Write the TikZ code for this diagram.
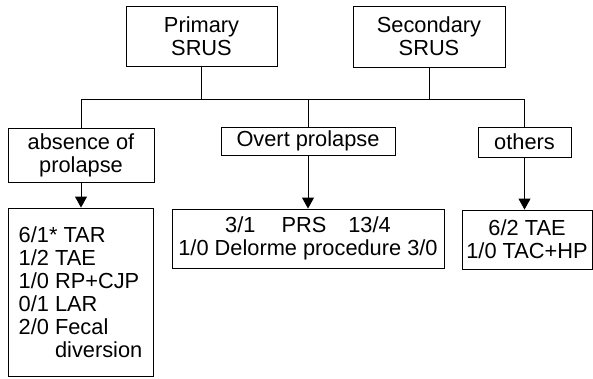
\documentclass[tikz,border=0pt]{standalone}
\usepackage{fontspec}
\setmainfont{Liberation Sans}
\usepackage{tikz}
\usetikzlibrary{arrows.meta,positioning}

\begin{document}
\begin{tikzpicture}[x=1pt,y=-1pt,line width=0.9pt,
  box/.style={draw,align=center,inner sep=0pt,
    font=\fontsize{21.8}{23}\selectfont},
  tip/.style={-{Triangle[length=11pt,width=12pt]}}]

  \useasboundingbox (0,0) rectangle (593,378);

  \node[box,minimum width=151pt,minimum height=60pt] (prim) at (201.5,36)  {Primary\\SRUS};
  \node[box,minimum width=152pt,minimum height=61pt] (sec)  at (429,36.5)  {Secondary\\SRUS};
  \coordinate (bus) at (0,99);

  \node[box,minimum width=146pt,minimum height=54pt] (absn)  at (81,155)    {absence of\\prolapse};
  \node[box,minimum width=174pt,minimum height=28pt] (overt) at (308,141)   {Overt prolapse};
  \node[box,minimum width=93pt,minimum height=30pt]  (oth)   at (524.5,142) {others};

  \node[box,align=left,minimum width=145pt,minimum height=168pt] (res1) at (80.5,292)
    {6/1* TAR\\1/2 TAE\\1/0 RP+CJP\\0/1 LAR\\2/0 Fecal\\\phantom{2/0 }diversion};
  \node[box,minimum width=272pt,minimum height=59pt] (res2) at (308,238.5)
    {3/1\hspace{1.2em}PRS\hspace{1em}13/4\\1/0 Delorme procedure 3/0};
  \node[box,minimum width=130pt,minimum height=59pt] (res3) at (527,239.5)
    {6/2 TAE\\1/0 TAC+HP};

\draw (prim.south) -- (prim.south |- bus);
\draw (sec.south) -- (sec.south |- bus);
\draw (absn.north |- bus) -- (oth.north |- bus);
\draw (absn.north) -- (absn.north |- bus);
\draw (overt.north) -- (overt.north |- bus);
\draw (oth.north) -- (oth.north |- bus);
\path[tip]
(absn.south)  edge (absn.south |- res1.north)
(overt.south) edge (overt.south |- res2.north)
(oth.south)   edge (oth.south |- res3.north)
;
\end{tikzpicture}
\end{document}
